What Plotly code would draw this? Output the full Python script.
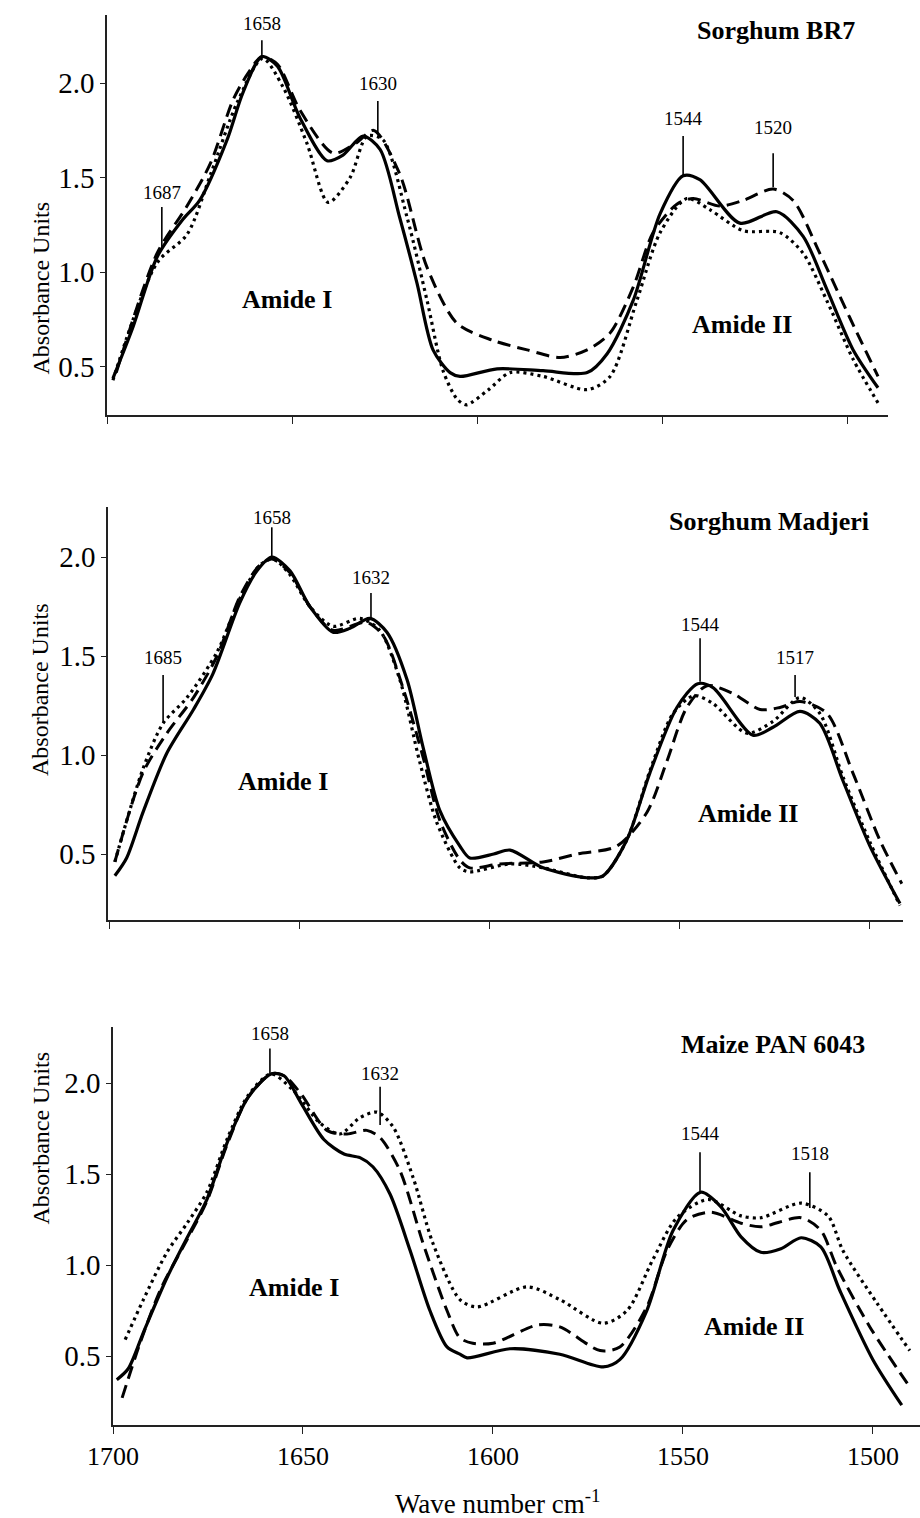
import plotly.graph_objects as go

# ---------------- data (wavenumber cm-1, absorbance units) ----------------
# Panel 1: Sorghum BR7
br7_solid_x = [1698.4, 1693, 1686.5, 1679.5, 1675, 1667.6, 1663.3, 1658.2, 1654, 1648, 1640.6, 1636.3, 1630.9, 1626.3, 1621, 1616.3, 1612, 1607.4, 1604.7, 1594.7, 1582.3, 1570.4, 1565, 1558, 1550.7, 1544.5, 1540, 1529.2, 1519.2, 1512.1, 1505.7, 1498.6, 1491.9]
br7_solid_y = [0.44, 0.71, 1.08, 1.28, 1.38, 1.70, 1.95, 2.14, 2.09, 1.82, 1.59, 1.62, 1.72, 1.65, 1.29, 0.94, 0.59, 0.47, 0.45, 0.49, 0.48, 0.47, 0.57, 0.85, 1.31, 1.51, 1.49, 1.26, 1.32, 1.19, 0.91, 0.59, 0.39]
br7_dash_x = [1697.5, 1686.5, 1678.4, 1672, 1666, 1662, 1658.2, 1654, 1648, 1639, 1633, 1628, 1621, 1613.7, 1605.5, 1595.8, 1586.6, 1577.7, 1570.4, 1564.2, 1558, 1552.6, 1546.2, 1541.8, 1534.5, 1528.3, 1520.2, 1514.8, 1507.6, 1499.5, 1491.9]
br7_dash_y = [0.47, 1.10, 1.35, 1.58, 1.91, 2.05, 2.14, 2.10, 1.86, 1.63, 1.68, 1.75, 1.52, 1.03, 0.73, 0.64, 0.59, 0.55, 0.59, 0.68, 0.92, 1.21, 1.36, 1.39, 1.35, 1.38, 1.44, 1.38, 1.10, 0.76, 0.45]
br7_dot_x = [1698.4, 1686.5, 1678.4, 1672, 1664.8, 1658, 1652.5, 1646, 1640.3, 1634.4, 1629.8, 1625.5, 1619, 1613.6, 1609.3, 1605.5, 1603, 1597, 1591.2, 1582.3, 1570.4, 1564.2, 1557, 1550.7, 1543.5, 1537.2, 1528.3, 1518.4, 1512.1, 1505.7, 1498.6, 1491.9]
br7_dot_y = [0.43, 1.05, 1.20, 1.52, 1.90, 2.13, 1.98, 1.68, 1.37, 1.50, 1.72, 1.70, 1.29, 0.85, 0.48, 0.33, 0.30, 0.38, 0.47, 0.45, 0.38, 0.45, 0.85, 1.21, 1.39, 1.33, 1.22, 1.21, 1.10, 0.85, 0.54, 0.31]

# Panel 2: Sorghum Madjeri
mad_solid_x = [1698.7, 1695.6, 1691.3, 1685, 1678, 1672.9, 1665.8, 1661.3, 1657.4, 1652.6, 1647.4, 1641.3, 1636.8, 1631.6, 1627.1, 1621.8, 1617.6, 1613.2, 1607.9, 1605.3, 1599, 1594.7, 1586, 1574.5, 1570.2, 1564, 1557.9, 1550.8, 1545.3, 1541.3, 1530.8, 1525.5, 1518.4, 1513.2, 1507.1, 1500, 1492.1]
mad_solid_y = [0.39, 0.48, 0.71, 1.01, 1.23, 1.41, 1.77, 1.93, 2.00, 1.93, 1.75, 1.62, 1.64, 1.69, 1.62, 1.38, 1.04, 0.72, 0.54, 0.48, 0.50, 0.52, 0.43, 0.38, 0.39, 0.57, 0.91, 1.24, 1.36, 1.34, 1.10, 1.14, 1.22, 1.16, 0.87, 0.54, 0.25]
mad_dash_x = [1698.7, 1691.3, 1685, 1678, 1671.8, 1665.8, 1661, 1657.4, 1652.6, 1647.4, 1641.3, 1632.4, 1628, 1622.9, 1617.6, 1613.2, 1607.9, 1605.3, 1597.4, 1586, 1577.1, 1566.6, 1558.7, 1553.4, 1548.2, 1542.9, 1536, 1528.9, 1523.7, 1518.4, 1511.3, 1504.5, 1497.4, 1491.6]
mad_dash_y = [0.46, 0.91, 1.11, 1.29, 1.50, 1.80, 1.95, 1.99, 1.92, 1.75, 1.63, 1.67, 1.60, 1.34, 0.99, 0.67, 0.47, 0.43, 0.45, 0.46, 0.50, 0.54, 0.71, 0.97, 1.24, 1.35, 1.31, 1.23, 1.24, 1.27, 1.21, 0.91, 0.57, 0.35]
mad_dot_x = [1698.7, 1691.3, 1686, 1679.7, 1671.8, 1665.8, 1660.5, 1657, 1652.6, 1647.4, 1641.3, 1634.2, 1629, 1623.7, 1618.4, 1614, 1607.9, 1605.3, 1594.7, 1586, 1574.5, 1570.2, 1564, 1557.9, 1551.8, 1546.3, 1541.3, 1532.4, 1525.5, 1518.4, 1513.2, 1507.1, 1500, 1492.1]
mad_dot_y = [0.46, 0.93, 1.16, 1.29, 1.52, 1.79, 1.96, 1.99, 1.91, 1.75, 1.65, 1.69, 1.63, 1.38, 0.96, 0.66, 0.43, 0.41, 0.45, 0.43, 0.38, 0.39, 0.57, 0.92, 1.21, 1.30, 1.26, 1.11, 1.17, 1.29, 1.21, 0.89, 0.56, 0.24]

# Panel 3: Maize PAN 6043
pan_solid_x = [1699, 1696, 1691.8, 1685.8, 1680.5, 1675.3, 1670, 1664.5, 1658.4, 1655, 1650.5, 1644.5, 1639.2, 1635, 1631.6, 1627.1, 1621.8, 1616.6, 1612.1, 1608.7, 1606.8, 1595.5, 1582.4, 1571, 1566.6, 1559.5, 1552.6, 1545.3, 1540, 1534.7, 1529.5, 1524.2, 1518.9, 1513.7, 1508.7, 1500, 1492.4]
pan_solid_y = [0.37, 0.43, 0.64, 0.93, 1.15, 1.36, 1.67, 1.92, 2.05, 2.04, 1.89, 1.69, 1.61, 1.59, 1.54, 1.39, 1.08, 0.75, 0.55, 0.51, 0.49, 0.54, 0.51, 0.44, 0.48, 0.75, 1.19, 1.40, 1.32, 1.155, 1.07, 1.09, 1.15, 1.10, 0.86, 0.48, 0.23]
pan_dash_x = [1697.6, 1692.9, 1687.4, 1680.5, 1675.3, 1670, 1664.5, 1658.4, 1655, 1650.5, 1643.7, 1638.4, 1633.2, 1629.7, 1624.5, 1618.4, 1612.1, 1608.7, 1605.3, 1600, 1588.4, 1582.4, 1571.8, 1566.6, 1559.5, 1554.2, 1548.9, 1542.6, 1534.7, 1529.5, 1518.9, 1513.7, 1509.5, 1500.8, 1490.3]
pan_dash_y = [0.27, 0.57, 0.87, 1.14, 1.35, 1.66, 1.92, 2.05, 2.04, 1.94, 1.74, 1.72, 1.74, 1.70, 1.52, 1.12, 0.75, 0.60, 0.57, 0.57, 0.67, 0.66, 0.53, 0.55, 0.77, 1.08, 1.25, 1.29, 1.23, 1.21, 1.26, 1.19, 0.99, 0.66, 0.33]
pan_dot_x = [1696.8, 1692, 1685.8, 1680.5, 1675.3, 1670, 1664.5, 1658.4, 1652.6, 1645.5, 1640.3, 1635, 1630.5, 1626.3, 1621, 1615.8, 1608.7, 1604.2, 1591, 1582.4, 1571, 1564.7, 1557.9, 1551.6, 1543.4, 1534.7, 1529.5, 1518.9, 1511.8, 1507.9, 1498.9, 1490.3]
pan_dot_y = [0.59, 0.81, 1.07, 1.23, 1.40, 1.69, 1.93, 2.05, 1.96, 1.78, 1.72, 1.81, 1.84, 1.76, 1.48, 1.12, 0.81, 0.77, 0.88, 0.81, 0.68, 0.75, 1.03, 1.26, 1.36, 1.27, 1.26, 1.34, 1.27, 1.08, 0.79, 0.53]

panel_titles = ["Sorghum BR7", "Sorghum Madjeri", "Maize PAN 6043"]
x_ticks = [1700, 1650, 1600, 1550, 1500]
y_ticks = [0.5, 1.0, 1.5, 2.0]
y_tick_text = ["0.5", "1.0", "1.5", "2.0"]

# peak labels: (text, x position, text y, line top y, line bottom y)
br7_peaks = [("1687", 1685.2, 1.42, 1.345, 1.134), ("1658", 1658.2, 2.317, 2.227, 2.137),
             ("1630", 1626.9, 2.00, 1.905, 1.736), ("1544", 1544.5, 1.815, 1.72, 1.514),
             ("1520", 1520.2, 1.768, 1.63, 1.45)]
mad_peaks = [("1685", 1686.0, 1.49, 1.404, 1.167), ("1658", 1657.4, 2.20, 2.15, 2.0),
             ("1632", 1631.3, 1.894, 1.818, 1.692), ("1544", 1544.7, 1.657, 1.59, 1.37),
             ("1517", 1519.7, 1.49, 1.404, 1.293)]
pan_peaks = [("1658", 1658.7, 2.275, 2.19, 2.055), ("1632", 1629.7, 2.055, 1.98, 1.77),
             ("1544", 1545.5, 1.725, 1.62, 1.40), ("1518", 1516.6, 1.615, 1.51, 1.313)]

# ---------------- layout geometry ----------------
W, H = 920, 1518
FONT = "Liberation Serif, Times New Roman, serif"

panels = [
    dict(series=[(br7_solid_x, br7_solid_y), (br7_dash_x, br7_dash_y), (br7_dot_x, br7_dot_y)],
         peaks=br7_peaks, title=(panel_titles[0], 1519.4, 2.28),
         amide1=(1651.4, 0.854), amide2=(1528.6, 0.722),
         xdom=(107, 888), ydom=(15, 415), xr=(1700, 1489.2), yr=(0.246, 2.36),
         ylab_y=200, ticklabels=False),
    dict(series=[(mad_solid_x, mad_solid_y), (mad_dash_x, mad_dash_y), (mad_dot_x, mad_dot_y)],
         peaks=mad_peaks, title=(panel_titles[1], 1526.6, 2.177),
         amide1=(1654.5, 0.864), amide2=(1532.0, 0.707),
         xdom=(108, 903), ydom=(507, 920), xr=(1700.5, 1491.3), yr=(0.1667, 2.2525),
         ylab_y=690, ticklabels=False),
    dict(series=[(pan_solid_x, pan_solid_y), (pan_dash_x, pan_dash_y), (pan_dot_x, pan_dot_y)],
         peaks=pan_peaks, title=(panel_titles[2], 1526.3, 2.21),
         amide1=(1652.4, 0.874), amide2=(1531.3, 0.66),
         xdom=(113, 920), ydom=(1027, 1425), xr=(1700, 1487.6), yr=(0.121, 2.308),
         ylab_y=1227, ticklabels=True),
]

styles = [dict(dash="solid", width=3.2),
          dict(dash="13px,7px", width=3.0),
          dict(dash="3px,4px", width=3.2)]

fig = go.Figure()
annotations = []
shapes = []

for i, p in enumerate(panels):
    n = "" if i == 0 else str(i + 1)
    xa, ya = "x" + n, "y" + n
    for (xs, ys), st in zip(p["series"], styles):
        fig.add_trace(go.Scatter(x=xs, y=ys, mode="lines", xaxis=xa, yaxis=ya,
                                 line=dict(color="black", width=st["width"], dash=st["dash"],
                                           shape="spline", smoothing=0.8),
                                 showlegend=False, hoverinfo="skip", cliponaxis=False))
    x0, x1 = p["xdom"]
    y0, y1 = p["ydom"]
    fig.layout["xaxis" + n] = dict(
        domain=[x0 / W, x1 / W], range=list(p["xr"]), anchor=ya, automargin=False,
        showline=True, linecolor="#222", linewidth=1.5, showgrid=False, zeroline=False,
        ticks="outside", ticklen=7, tickwidth=1.3, tickcolor="#222",
        tickvals=x_ticks, showticklabels=p["ticklabels"],
        tickfont=dict(family=FONT, size=26, color="black"))
    fig.layout["yaxis" + n] = dict(
        domain=[1 - y1 / H, 1 - y0 / H], range=list(p["yr"]), anchor=xa, automargin=False,
        showline=True, linecolor="#222", linewidth=1.5, showgrid=False, zeroline=False,
        ticks="outside", ticklen=5, tickwidth=1.3, tickcolor="#222",
        tickvals=y_ticks, ticktext=y_tick_text,
        tickfont=dict(family=FONT, size=29, color="black"))

    for txt, px, ty, l0, l1 in p["peaks"]:
        annotations.append(dict(x=px, y=ty, xref=xa, yref=ya, text=txt, showarrow=False,
                                font=dict(family=FONT, size=19, color="black")))
        shapes.append(dict(type="line", xref=xa, yref=ya, x0=px, x1=px, y0=l0, y1=l1,
                           line=dict(color="black", width=1.6)))
    t, tx, ty = p["title"]
    annotations.append(dict(x=tx, y=ty, xref=xa, yref=ya, text="<b>" + t + "</b>",
                            showarrow=False, font=dict(family=FONT, size=26, color="black")))
    for (ax, ay), lab in zip([p["amide1"], p["amide2"]], ["Amide I", "Amide II"]):
        annotations.append(dict(x=ax, y=ay, xref=xa, yref=ya, text="<b>" + lab + "</b>",
                                showarrow=False, font=dict(family=FONT, size=26, color="black")))
    annotations.append(dict(x=25 / W, y=1 - p["ylab_y"] / H, xref="paper", yref="paper",
                            text="Absorbance Units", textangle=-90, showarrow=False,
                            font=dict(family=FONT, size=24, color="black")))

annotations.append(dict(x=498 / W, y=0, xref="paper", yref="paper", yanchor="bottom",
                        yshift=-3, text="Wave number cm<sup>-1</sup>", showarrow=False,
                        font=dict(family=FONT, size=27, color="black")))

fig.update_layout(width=W, height=H, margin=dict(l=0, r=0, t=0, b=0, autoexpand=False),
                  paper_bgcolor="white", plot_bgcolor="white",
                  annotations=annotations, shapes=shapes)

fig.write_html("out.html", config={"displayModeBar": False},
               post_script="document.body.style.margin='0px';document.body.style.overflow='hidden';")
